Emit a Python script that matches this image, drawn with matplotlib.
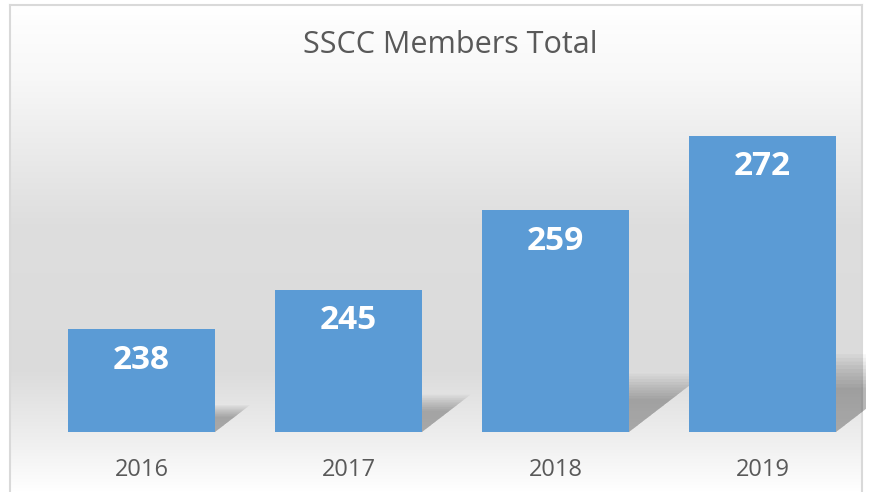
import numpy as np
import matplotlib
matplotlib.use("Agg")
import matplotlib.pyplot as plt
from matplotlib.patches import Polygon

years = ["2016", "2017", "2018", "2019"]
members = [238, 245, 259, 272]

bar_color = "#5B9BD5"
text_grey = "#595959"

W, H = 891, 492
fig = plt.figure(figsize=(W / 100, H / 100), dpi=100)
fig.patch.set_facecolor("white")

# chart box with vertical gradient background
bg = fig.add_axes([10 / W, 0, 852 / W, 487 / H])
grad = np.interp(np.linspace(0, 1, 300),
                 [0, 0.15, 0.45, 0.75, 0.9, 1.0],
                 [1.0, 0.97, 0.87, 0.86, 0.94, 1.0])
img = np.repeat(grad[:, None, None], 3, axis=2).repeat(2, axis=1)
bg.imshow(img, aspect="auto", extent=[0, 1, 1, 0])
bg.set_xlim(0, 1)
bg.set_ylim(1, 0)
bg.set_xticks([])
bg.set_yticks([])
for s in bg.spines.values():
    s.set_color("#d9d9d9")
    s.set_linewidth(1.5)
bg.spines["bottom"].set_visible(False)

# plot area
ax = fig.add_axes([38 / W, 60 / H, 828 / W, 342 / H])
ax.patch.set_alpha(0)
ax.set_xlim(-0.5, 3.5)
ax.set_ylim(220, 280)
base = 220
x = np.arange(len(years))
width = 0.71

# soft perspective shadows behind bars (layered to look blurred)
px_x = 828 / 4.0
px_y = 342 / 60.0
for xi, v in zip(x, members):
    h = (v - base) * 0.25
    dx = 1.3 * h * px_y / px_x
    for k in range(10):
        f = 0.6 + 0.05 * k
        poly = Polygon([(xi - width / 2, base),
                        (xi + width / 2, base),
                        (xi + width / 2 + dx * f, base + h * f),
                        (xi - width / 2 + dx * f, base + h * f)],
                       closed=True, facecolor="black", edgecolor="none",
                       alpha=0.032, zorder=1)
        ax.add_patch(poly)

ax.bar(x, [v - base for v in members], bottom=base, width=width,
       color=bar_color, zorder=3)

for xi, v in zip(x, members):
    ax.text(xi, v - 5.5, str(v), ha="center", va="center", color="white",
            fontsize=24, fontweight="bold", family="Open Sans", zorder=4)

ax.set_xticks(x)
ax.set_xticklabels(years, fontsize=17, color=text_grey, family="Open Sans")
ax.tick_params(axis="x", length=0, pad=19)
ax.set_yticks([])
for s in ax.spines.values():
    s.set_visible(False)

fig.text(450 / W, 1 - 45 / H, "SSCC Members Total", ha="center", va="center",
         fontsize=22, color=text_grey, family="Open Sans")

fig.savefig("out.png", dpi=100)
